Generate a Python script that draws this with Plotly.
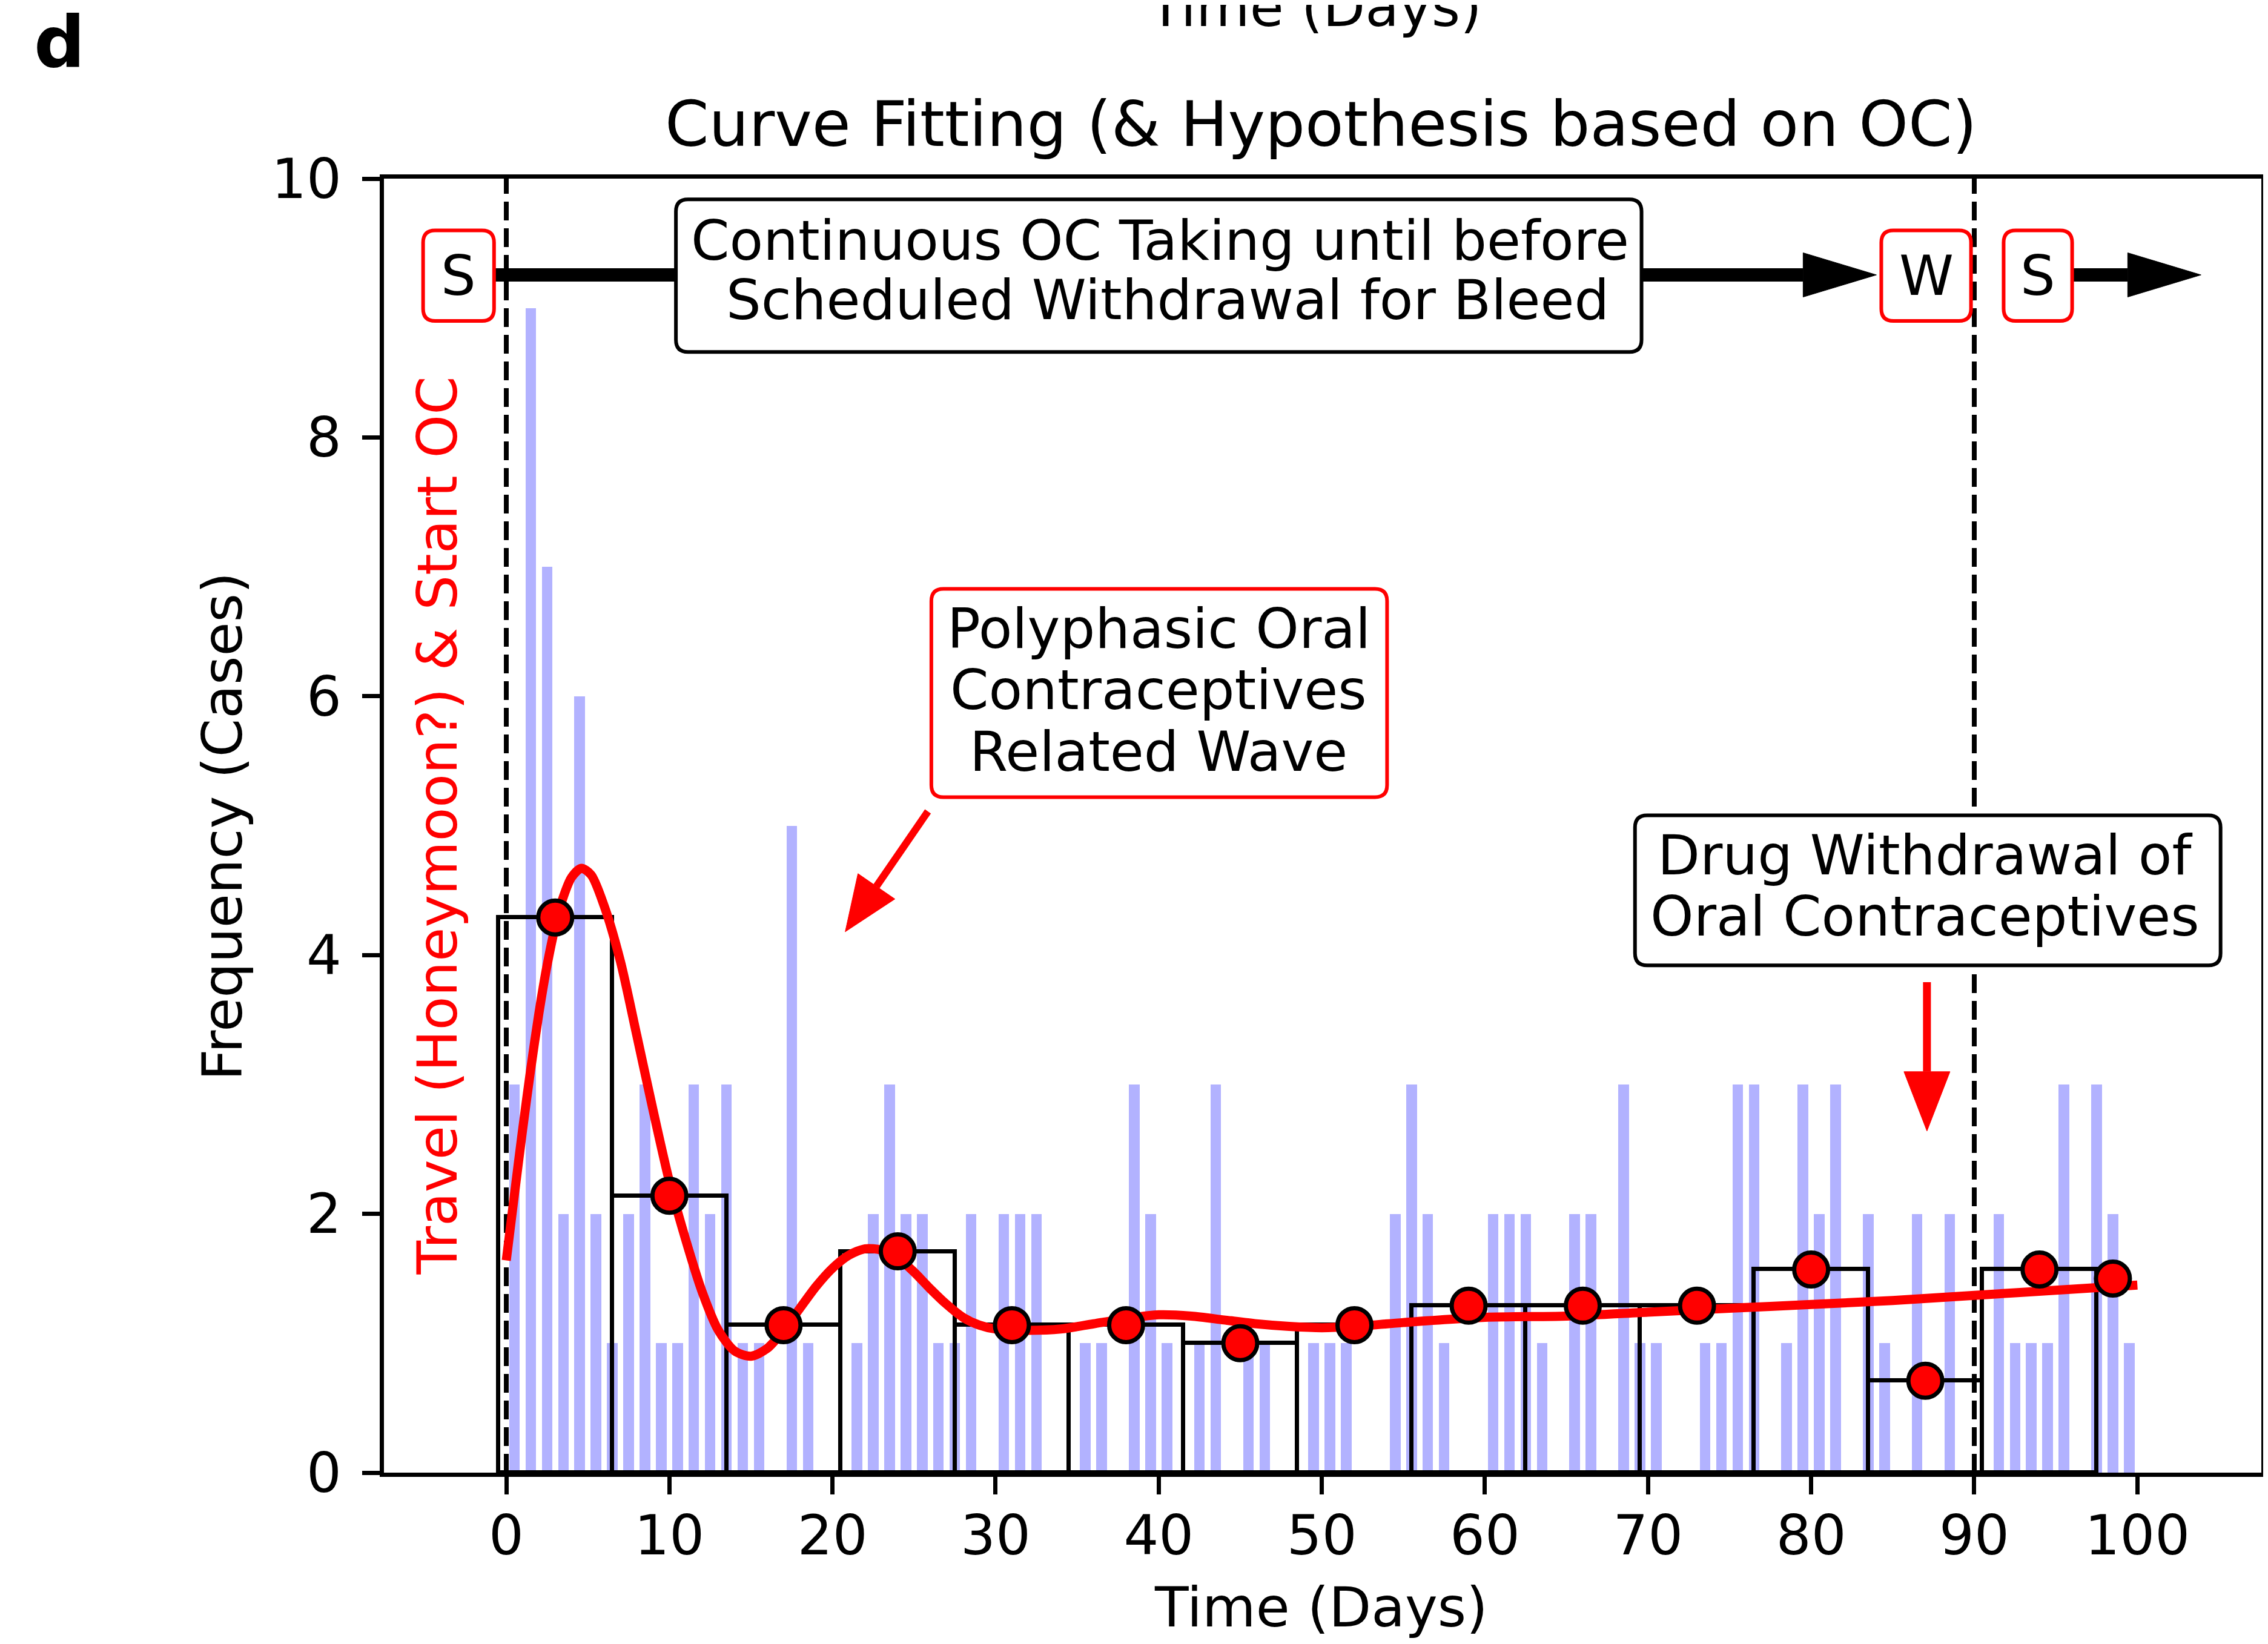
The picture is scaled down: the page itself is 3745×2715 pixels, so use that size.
import math
import plotly.graph_objects as go

# daily case counts, day 0 .. day 99 (one row per week)
days = list(range(100))
daily_cases = [3, 9, 7, 2, 6, 2, 1,
               2, 3, 1, 1, 3, 2, 3,
               1, 1, 0, 5, 1, 0, 0,
               1, 2, 3, 2, 2, 1, 1,
               2, 0, 2, 2, 2, 0, 0,
               1, 1, 0, 3, 2, 1, 0,
               1, 3, 0, 1, 1, 0, 0,
               1, 1, 1, 0, 0, 2, 3,
               2, 1, 0, 0, 2, 2, 2,
               1, 0, 2, 2, 0, 3, 1,
               1, 0, 0, 1, 1, 3, 3,
               0, 1, 3, 2, 3, 0, 2,
               1, 0, 2, 0, 2, 0, 0,
               2, 1, 1, 1, 3, 0, 3,
               2, 1]

# weekly averages (7-day bins)
week_centers = [3, 10, 17, 24, 31, 38, 45, 52, 59, 66, 73, 80, 87, 94]
week_means = [4.29, 2.14, 1.14, 1.71, 1.14, 1.14, 1.00, 1.14, 1.29, 1.29, 1.29, 1.57, 0.71, 1.57]
# last incomplete bin (days 98-99)
tail_center = [98.5]
tail_mean = [1.5]

# fitted curve
fit_days = [0, 0.5, 1, 1.5, 2, 2.5, 3, 3.5, 4, 4.6, 5.2, 6, 7, 8, 9, 10, 11, 12, 13, 14,
            15, 16, 17, 18, 19, 20, 21, 22, 23, 24, 25, 26, 27, 28, 29, 30, 32, 34, 36, 38,
            40, 42, 44, 46, 48, 50, 52, 55, 60, 65, 70, 75, 80, 85, 90, 95, 100]
fit_cases = [1.64, 2.15, 2.65, 3.12, 3.55, 3.92, 4.22, 4.45, 4.60, 4.67, 4.62, 4.38, 3.95, 3.38,
             2.80, 2.25, 1.80, 1.40, 1.10, 0.94, 0.90, 0.96, 1.10, 1.27, 1.44, 1.58, 1.68, 1.73,
             1.72, 1.66, 1.55, 1.42, 1.30, 1.20, 1.14, 1.11, 1.10, 1.11, 1.15, 1.19, 1.22, 1.21,
             1.18, 1.15, 1.13, 1.12, 1.13, 1.16, 1.20, 1.21, 1.24, 1.27, 1.30, 1.33, 1.37, 1.41, 1.45]

x_ticks = [0, 10, 20, 30, 40, 50, 60, 70, 80, 90, 100]
y_ticks = [0, 2, 4, 6, 8, 10]

FONT = "DejaVu Sans"
FS = 91
W, H = 3745, 2715
ML, MR, MT, MB = 626, 19, 287, 291
PW, PH = W - ML - MR, H - MT - MB
X_RANGE = [-7.5, 107.6]
Y_RANGE = [0, 10]
PX_X = PW / (X_RANGE[1] - X_RANGE[0])
PX_Y = PH / (Y_RANGE[1] - Y_RANGE[0])


def paper_x(px):
    return (px - ML) / PW


def paper_y(py):
    return (MT + PH - py) / PH


def rounded_box(x0, x1, y0, y1, color, r=20, width=6):
    rx, ry = r / PX_X, r / PX_Y
    path = (f"M{x0 + rx},{y0} L{x1 - rx},{y0} Q{x1},{y0} {x1},{y0 + ry} "
            f"L{x1},{y1 - ry} Q{x1},{y1} {x1 - rx},{y1} L{x0 + rx},{y1} "
            f"Q{x0},{y1} {x0},{y1 - ry} L{x0},{y0 + ry} Q{x0},{y0} {x0 + rx},{y0} Z")
    return dict(type="path", path=path, xref="x", yref="y", layer="above",
                fillcolor="white", line=dict(color=color, width=width))


def arrow(tail, tip, color, shaft, head_len, head_w):
    # work in pixels so the head keeps its shape on unequal axes
    dx = (tip[0] - tail[0]) * PX_X
    dy = (tip[1] - tail[1]) * PX_Y
    n = math.hypot(dx, dy)
    ux, uy = dx / n, dy / n
    bx = tip[0] - ux * head_len / PX_X
    by = tip[1] - uy * head_len / PX_Y
    px, py = -uy * head_w / 2, ux * head_w / 2
    c1 = (bx + px / PX_X, by + py / PX_Y)
    c2 = (bx - px / PX_X, by - py / PX_Y)
    line = dict(type="line", xref="x", yref="y", layer="above",
                x0=tail[0], y0=tail[1], x1=bx, y1=by,
                line=dict(color=color, width=shaft))
    head = dict(type="path", xref="x", yref="y", layer="above",
                path=f"M{tip[0]},{tip[1]} L{c1[0]},{c1[1]} L{c2[0]},{c2[1]} Z",
                fillcolor=color, line=dict(color=color, width=1))
    return [line, head]


fig = go.Figure()

# daily histogram
fig.add_trace(go.Bar(
    x=[d + 0.5 for d in days], y=daily_cases, width=0.65,
    marker=dict(color="rgb(178,178,255)", line=dict(width=0)),
    hoverinfo="skip"))

# weekly bins, outline only
fig.add_trace(go.Bar(
    x=week_centers, y=week_means, width=7,
    marker=dict(color="rgba(0,0,0,0)", line=dict(color="black", width=7)),
    hoverinfo="skip"))

# fitted curve
fig.add_trace(go.Scatter(
    x=fit_days, y=fit_cases, mode="lines",
    line=dict(color="red", width=15, shape="spline", smoothing=0.8)))

# weekly means as dots
fig.add_trace(go.Scatter(
    x=week_centers + tail_center, y=week_means + tail_mean, mode="markers",
    marker=dict(size=56, color="red", line=dict(color="black", width=7))))

shapes = []
# dashed start / withdrawal lines
for xv in (0, 90):
    shapes.append(dict(type="line", xref="x", yref="y", layer="below",
                       x0=xv, x1=xv, y0=0, y1=10,
                       line=dict(color="black", width=8, dash="31px,13px")))

# top banner: arrows first, boxes over them
shapes += arrow((-0.75, 9.256), (84.0, 9.256), "black", 22, 121, 73)
shapes += arrow((96.0, 9.256), (103.9, 9.256), "black", 22, 121, 73)
shapes.append(rounded_box(10.4, 69.6, 8.66, 9.84, "black"))
shapes.append(rounded_box(-5.1, -0.75, 8.90, 9.60, "red"))
shapes.append(rounded_box(84.3, 89.8, 8.90, 9.60, "red"))
shapes.append(rounded_box(91.8, 96.0, 8.90, 9.60, "red"))

# annotation boxes and red arrows
shapes.append(rounded_box(26.06, 54.0, 5.22, 6.83, "red"))
shapes += arrow((25.85, 5.11), (20.78, 4.18), "red", 12, 91, 74)
shapes.append(rounded_box(69.2, 105.1, 3.92, 5.08, "black"))
shapes += arrow((87.1, 3.79), (87.1, 2.64), "red", 13, 98, 76)

annotations = []


def text(x, y, s, size=FS, color="black", ref="data", angle=0, xanchor="center"):
    a = dict(x=x, y=y, text=s, showarrow=False, textangle=angle,
             xanchor=xanchor, yanchor="middle",
             font=dict(family=FONT, size=size, color=color))
    if ref == "paper":
        a.update(xref="paper", yref="paper")
    else:
        a.update(xref="x", yref="y")
    annotations.append(a)


text(-2.93, 9.25, "S")
text(87.05, 9.25, "W")
text(93.9, 9.25, "S")
text(40.07, 9.52, "Continuous OC Taking until before")
text(40.55, 9.06, "Scheduled Withdrawal for Bleed")
text(40.0, 6.52, "Polyphasic Oral")
text(40.0, 6.05, "Contraceptives")
text(40.0, 5.57, "Related Wave")
text(86.97, 4.77, "Drug Withdrawal of")
text(86.97, 4.30, "Oral Contraceptives")
text(-4.23, 5.0, "Travel (Honeymoon?) &amp; Start OC", color="red", angle=-90)

# titles and panel letter
text(paper_x(2173), paper_y(197), "Curve Fitting (&amp; Hypothesis based on OC)", size=104, ref="paper")
text(paper_x(2173), paper_y(2646), "Time (Days)", ref="paper")
text(paper_x(360), 0.4994, "Frequency (Cases)", ref="paper", angle=-90)
text(paper_x(2163), paper_y(4), "Time (Days)", ref="paper")
text(paper_x(90), paper_y(62), "<b>d</b>", size=118, ref="paper")

axis_common = dict(showgrid=False, zeroline=False, showline=True, mirror=True,
                   linecolor="black", linewidth=6.7, ticks="outside", ticklen=29,
                   tickwidth=6.7, tickcolor="black",
                   tickfont=dict(family=FONT, size=FS, color="black"))

fig.update_layout(
    width=W, height=H, autosize=False,
    margin=dict(l=ML, r=MR, t=MT, b=MB, pad=0),
    paper_bgcolor="white", plot_bgcolor="white",
    barmode="overlay", bargap=0, showlegend=False,
    xaxis=dict(range=X_RANGE, tickvals=x_ticks, ticklabelstandoff=-10, **axis_common),
    yaxis=dict(range=Y_RANGE, tickvals=y_ticks, ticklabelstandoff=16, **axis_common),
    shapes=shapes, annotations=annotations,
    font=dict(family=FONT, color="black"))

fig.write_html("out.html")
